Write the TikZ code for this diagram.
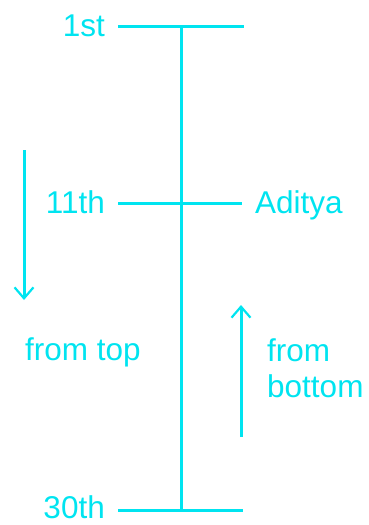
\documentclass[tikz,border=0pt]{standalone}
\usepackage{fontspec}
\setmainfont{Liberation Sans}
\usetikzlibrary{arrows.meta,positioning}
\definecolor{rankcyan}{RGB}{0,228,240}

\begin{document}
\begin{tikzpicture}[x=1pt,y=-1pt,
  every node/.style={text=rankcyan,font=\fontsize{31.5}{37}\selectfont,inner sep=0pt},
  rankline/.style={draw=rankcyan,line width=3pt},
  dirarrow/.style={rankline,-{Straight Barb[length=11pt,width=19pt,line width=2.2pt]}}]
\useasboundingbox (0,0) rectangle (369,525);

% Rank labels on the left
\node[anchor=base east] (first) at (105,36) {1st};
\node[anchor=base east] (eleventh) at (105,213) {11th};
\node[anchor=base east] (thirtieth) at (105,518) {30th};

% Name on the right
\node[anchor=base west] (aditya) at (255,213) {Aditya};

% Ends of the ticks
\coordinate (firstL) at (118,26);
\coordinate (firstR) at (244,26);
\coordinate (midL) at (118,203);
\coordinate (midR) at (242,203);
\coordinate (lastL) at (118,510);
\coordinate (lastR) at (243,510);

% Ticks and the column
\draw[rankline] (firstL) -- (firstR);
\draw[rankline] (midL) -- (midR);
\draw[rankline] (lastL) -- (lastR);
\draw[rankline] (181,26) -- (181,510);

% Counting from top
\coordinate (downS) at (24,150);
\coordinate (downE) at (24,300);
\draw[dirarrow] (downS) -- (downE);
\node[anchor=base west] (fromtop) at (25,360) {from top};

% Counting from bottom
\coordinate (upS) at (241,437);
\coordinate (upE) at (241,305);
\draw[dirarrow] (upS) -- (upE);
\node[anchor=base west] (fromb) at (267,361) {from};
\node[anchor=base west] (bottomw) at (267,397) {bottom};
\end{tikzpicture}
\end{document}
